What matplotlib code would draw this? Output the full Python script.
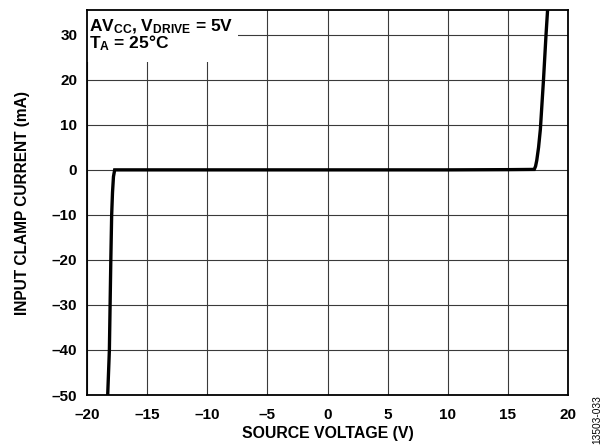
import matplotlib
matplotlib.use("Agg")
import matplotlib.pyplot as plt
from matplotlib.patches import Rectangle

plt.rcParams['font.family'] = ['Liberation Sans', 'DejaVu Sans']
plt.rcParams['mathtext.fontset'] = 'custom'
plt.rcParams['mathtext.rm'] = 'Liberation Sans:bold'
plt.rcParams['mathtext.default'] = 'rm'

# Data
voltage = [-18.28, -18.14, -18.02, -17.95, -17.88, -17.8, -17.7, 0.0, 10.0, 15.0, 17.19, 17.3, 17.4, 17.55, 17.7, 17.96, 18.17, 18.3]
current = [-50.0, -40.0, -20.0, -10.0, -5.0, -1.5, 0.0, 0.0, 0.0, 0.05, 0.1, 0.8, 2.1, 5.0, 9.0, 20.0, 30.0, 35.5]

xticks = [-20, -15, -10, -5, 0, 5, 10, 15, 20]
yticks = [-50, -40, -30, -20, -10, 0, 10, 20, 30]

def lab(v):
    return str(v).replace('-', '\u2013')

fig = plt.figure(figsize=(6.03, 4.47), dpi=100)
ax = fig.add_axes([0.1443, 0.1163, 0.7977, 0.8613])

ax.set_xlim(-20, 20)
ax.set_ylim(-50, 35.5)
ax.set_xticks(xticks)
ax.set_yticks(yticks)
ax.set_xticklabels([lab(v) for v in xticks], fontsize=11, fontweight='bold')
ax.set_yticklabels([lab(v) for v in yticks], fontsize=11, fontweight='bold')
ax.tick_params(axis='y', length=0, pad=7)
ax.tick_params(axis='x', length=0, pad=9)
ax.grid(True, color='#3a3a3a', linewidth=0.8, zorder=1)
ax.set_axisbelow(True)
for s in ax.spines.values():
    s.set_linewidth(1.3)
    s.set_color('black')
    s.set_zorder(5)

ax.add_patch(Rectangle((0, 0.865), 0.314, 0.135, transform=ax.transAxes,
                       facecolor='white', edgecolor='none', zorder=2))

ax.plot(voltage, current, color='black', linewidth=2.4, zorder=3, solid_joinstyle='miter')

ax.text(0.005, 0.98, r'AV$_{CC}$, V$_{DRIVE}$ = 5V' + '\n' + r'T$_{A}$ = 25°C',
        transform=ax.transAxes, ha='left', va='top', fontsize=12.5,
        fontweight='bold', linespacing=0.8, zorder=4)

ax.set_xlabel('SOURCE VOLTAGE (V)', fontsize=11.4, fontweight='bold', labelpad=3)
ax.set_ylabel('INPUT CLAMP CURRENT (mA)', fontsize=11.2, fontweight='bold', labelpad=16)

fig.text(0.99, 0.062, '13503-033', rotation=90, fontsize=7.3,
         ha='center', va='center')

fig.savefig('out.png', dpi=100)
